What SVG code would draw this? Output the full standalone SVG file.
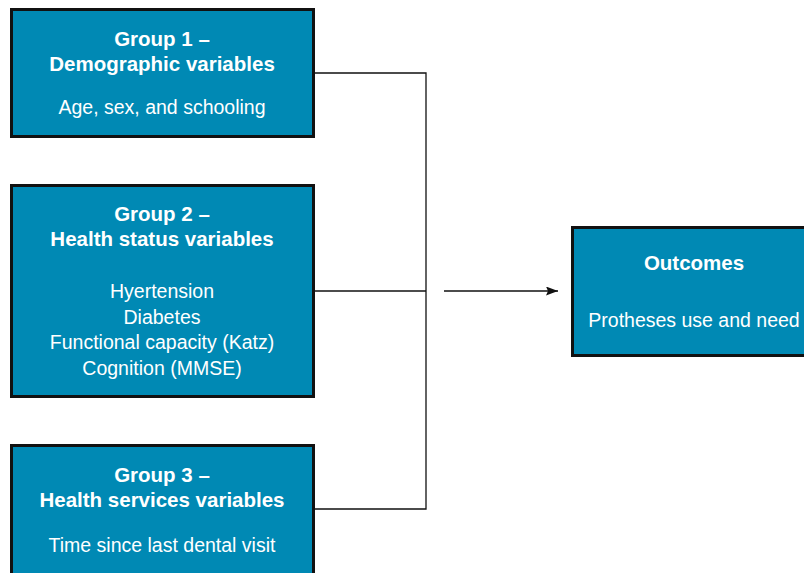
<svg xmlns="http://www.w3.org/2000/svg" width="804" height="573" viewBox="0 0 804 573">
<style>
.box{fill:#0089b4;stroke:#111;stroke-width:3}
.t{font-family:"Liberation Sans",Arial,sans-serif;fill:#fff;text-anchor:middle}
.h{font-size:20.5px;font-weight:bold}
.b{font-size:19.5px}
.ln{fill:none;stroke:#111;stroke-width:1.3}
</style>
<defs>
<marker id="arr" markerWidth="12" markerHeight="9" refX="12" refY="4.5" orient="auto" markerUnits="userSpaceOnUse">
<path d="M0,0 L12,4.5 L0,9 L2,4.5 Z" fill="#111"/>
</marker>
</defs>
<rect width="804" height="573" fill="#fff"/>
<g id="connectors">
<path class="ln" d="M314,73 H426 V509 H314"/>
<path class="ln" d="M314,291 H426"/>
<path class="ln" d="M444,291 H558" marker-end="url(#arr)"/>
</g>
<g id="group1">
<rect class="box" x="11.5" y="9.5" width="302" height="127"/>
<text class="t h" x="162" y="46">Group 1 –</text>
<text class="t h" x="162" y="71">Demographic variables</text>
<text class="t b" x="162" y="114">Age, sex, and schooling</text>
</g>
<g id="group2">
<rect class="box" x="11.5" y="185.5" width="302" height="211"/>
<text class="t h" x="162" y="221">Group 2 –</text>
<text class="t h" x="162" y="246">Health status variables</text>
<text class="t b" x="162" y="298">Hyertension</text>
<text class="t b" x="162" y="324">Diabetes</text>
<text class="t b" x="162" y="349">Functional capacity (Katz)</text>
<text class="t b" x="162" y="375">Cognition (MMSE)</text>
</g>
<g id="group3">
<rect class="box" x="11.5" y="445.5" width="302" height="140"/>
<text class="t h" x="162" y="482">Group 3 –</text>
<text class="t h" x="162" y="507">Health services variables</text>
<text class="t b" x="162" y="552">Time since last dental visit</text>
</g>
<g id="outcomes">
<rect class="box" x="572.5" y="227.5" width="240" height="128"/>
<text class="t h" x="694" y="270">Outcomes</text>
<text class="t b" x="694" y="327">Protheses use and need</text>
</g>
</svg>
